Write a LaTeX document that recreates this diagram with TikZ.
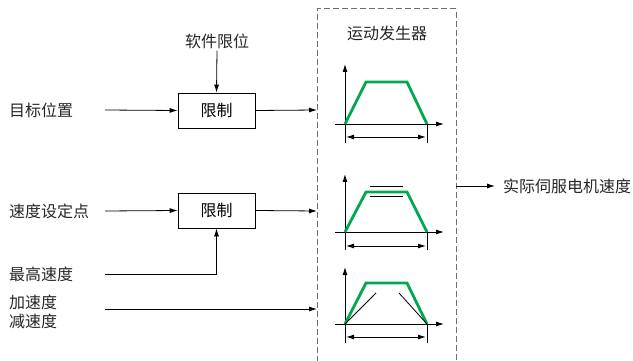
\documentclass[tikz,border=0pt]{standalone}
\usepackage{fontspec}
\setmainfont{Noto Sans CJK SC}
\usetikzlibrary{arrows.meta}
\definecolor{grn}{RGB}{0,168,80}
\definecolor{boxgray}{RGB}{110,110,110}
\tikzset{
  lbl/.style={font=\fontsize{16}{19}\selectfont, inner sep=0pt, text=black!85},
  limbox/.style={draw, line width=0.8pt, minimum width=77pt, minimum height=35pt, inner sep=0pt, font=\fontsize{16}{19}\selectfont},
  arr/.style={line width=0.8pt, -{Latex[length=8pt,width=5pt]}},
  ln/.style={line width=0.8pt},
  ax/.style={line width=0.9pt, -{Latex[length=8pt,width=5pt]}},
  dim/.style={line width=0.9pt, {Latex[length=8pt,width=5pt]}-{Latex[length=8pt,width=5pt]}},
  prof/.style={grn, line width=2.8pt, line join=miter},
  mgbox/.style={boxgray, line width=1pt, dash pattern=on 6pt off 3pt},
}
\begin{document}
\begin{tikzpicture}[x=1pt,y=-1pt]
\useasboundingbox (0,0) rectangle (633,361);
% dashed motion generator box
\draw[mgbox] (317,362) -- (317,9) -- (456,9) -- (456,362);
\node[lbl] (mg) at (387,33) {运动发生器};

% left column
\node[lbl, anchor=west] (tp) at (9,110) {目标位置};
\node[lbl, anchor=west] (vs) at (9,211) {速度设定点};
\node[lbl, anchor=west] (vm) at (9,274) {最高速度};
\node[lbl, anchor=west, align=left] (acc) at (9,312) {加速度\\减速度};
\node[lbl] (sl) at (217,41) {软件限位};

\node[limbox] (b1) at (216.5,110.5) {限制};
\node[limbox] (b2) at (216.5,210.5) {限制};

\coordinate (tp0) at (105,110);
\coordinate (vs0) at (105,211);
\coordinate (vm0) at (105,274);
\coordinate (acc0) at (105,309);
\coordinate (g1) at (317,110);
\coordinate (g2) at (317,211);
\coordinate (g3) at (317,309);

\draw[arr] (tp0) -- (b1.west);
\draw[arr] (sl.south) ++(0,2) -- (b1.north);
\draw[arr] (b1.east) -- (g1);
\draw[arr] (vs0) -- (b2.west);
\draw[arr] (b2.east) -- (g2);
\draw[arr] (vm0) -| (b2.south);
\draw[arr] (acc0) -- (g3);

% output
\coordinate (o0) at (456,186);
\node[lbl, anchor=west] (out) at (503,186) {实际伺服电机速度};
\draw[arr, shorten >=8pt] (o0) -- (out.west);

% graph 1
\draw[ax] (345,143) -- (345,64);
\draw[ax] (335,124) -- (444,124);
\draw[ln] (427,124) -- (427,143);
\draw[dim] (346,137) -- (426,137);
\draw[prof] (345,124) -- (366,82) -- (407,82) -- (427,124);

% graph 2
\draw[ax] (345,250) -- (345,174);
\draw[ax] (335,232) -- (444,232);
\draw[ln] (427,232) -- (427,250);
\draw[dim] (346,246) -- (426,246);
\draw[prof] (345,232) -- (366,192) -- (407,192) -- (427,232);
\draw[ln] (370,186.5) -- (403,186.5);
\draw[ln] (370,196.5) -- (403,196.5);

% graph 3
\draw[ax] (345,343) -- (345,267);
\draw[ax] (335,324) -- (444,324);
\draw[ln] (427,324) -- (427,343);
\draw[dim] (346,337) -- (426,337);
\draw[prof] (345,324) -- (366,283) -- (407,283) -- (427,324);
\draw[ln] (345,324) -- (376,293);
\draw[ln] (399,293) -- (427,324);
\end{tikzpicture}
\end{document}
